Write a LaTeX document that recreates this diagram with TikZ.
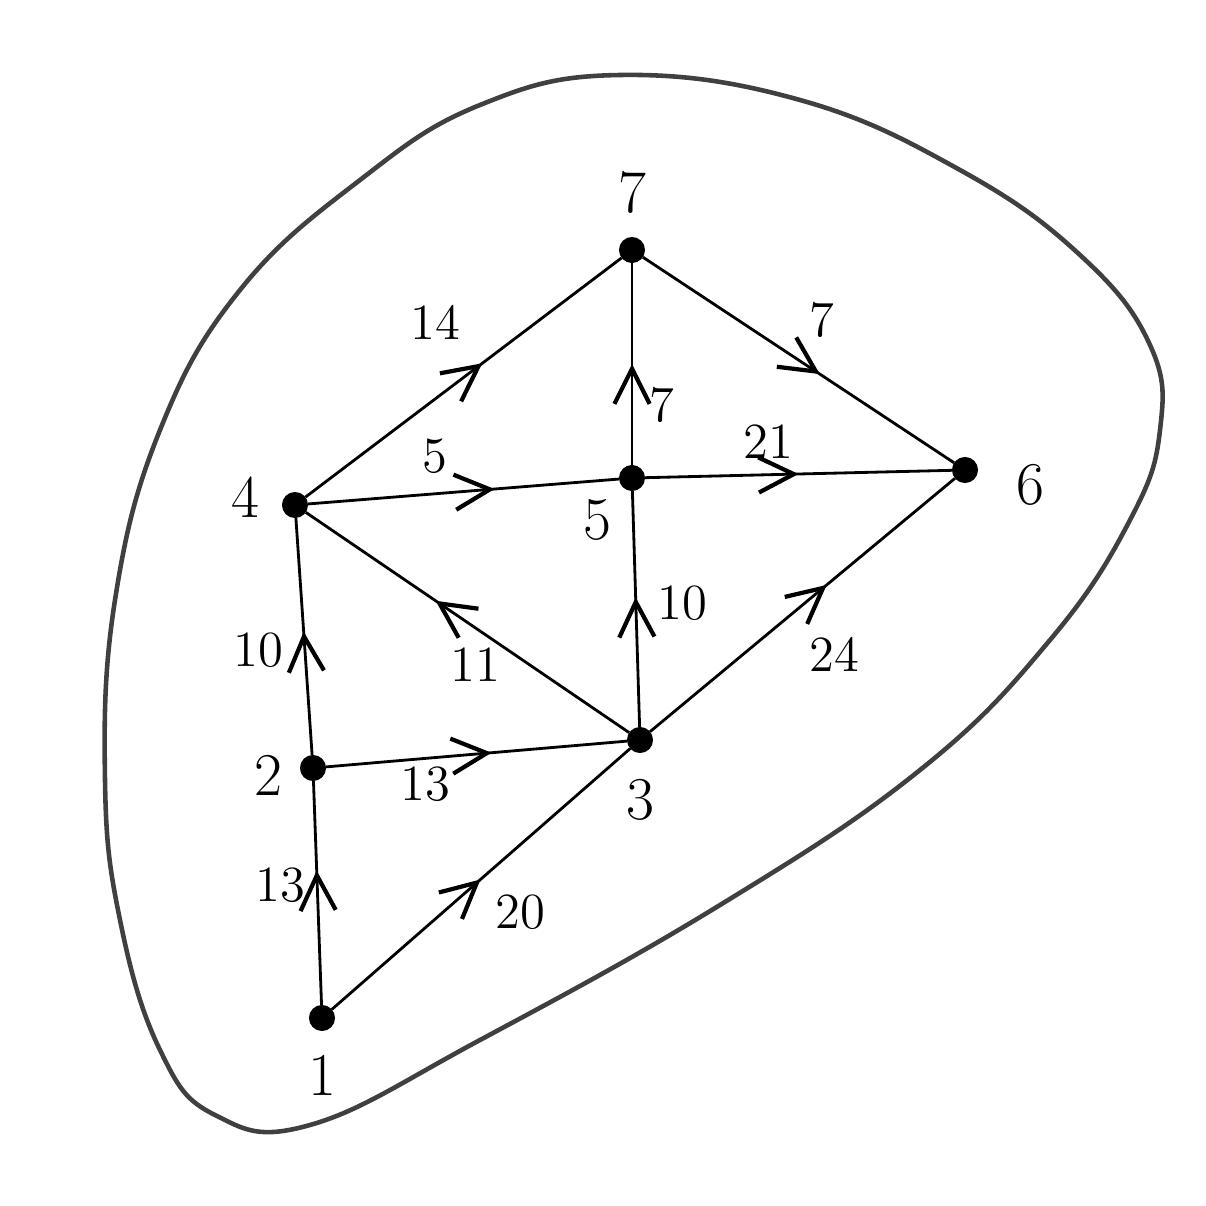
\documentclass[tikz,border=0pt]{standalone}
\usepackage{tikz}
\usetikzlibrary{arrows.meta,decorations.markings}

\begin{document}
\begin{tikzpicture}[x=0.01cm,y=-0.01cm,
  flow/.style={thick,postaction={decorate},
    decoration={markings,mark=at position #1 with {\arrow{Straight Barb[length=10pt,width=10pt,line width=1.2pt]}}}},
  flow/.default=0.5]
\tikzstyle{vertex}=[draw,circle,fill=black,inner sep=0pt,minimum size=7pt]
\tikzstyle{weight}=[font=\Large]
\tikzstyle{vname}=[font=\LARGE]
\useasboundingbox (0,0) rectangle (1205,1206);
% the region round the graph
\draw[line width=1.3pt,black!75] plot[smooth cycle,tension=0.7] coordinates
  {(620,75) (800,100) (960,170) (1080,255) (1150,345) (1160,430) (1130,520)
   (1050,640) (920,770) (720,905) (480,1040) (310,1125) (215,1115) (160,1050)
   (120,920) (105,780) (115,600) (160,430) (240,290) (360,180) (480,105)};
\node [vertex] (1) at (322,1018) {};
\node [vertex] (2) at (313,768) {};
\node [vertex] (3) at (640,740) {};
\node [vertex] (4) at (295,505) {};
\node [vertex] (5) at (632,478) {};
\node [vertex] (6) at (965,470) {};
\node [vertex] (7) at (632,250) {};
\node [vname] (n1) at (322,1075) {1};
\node [vname] (n2) at (268,775) {2};
\node [vname] (n3) at (640,800) {3};
\node [vname] (n4) at (245,497) {4};
\node [vname] (n5) at (597,520) {5};
\node [vname] (n6) at (1030,485) {6};
\node [vname] (n7) at (632,192) {7};
\path
    (1) edge [flow=0.6] (2)
    (1) edge [flow=0.5] (3)
    (2) edge [flow=0.52] (4)
    (2) edge [flow=0.55] (3)
    (3) edge [flow=0.6] (4)
    (3) edge [flow=0.55] (5)
    (3) edge [flow=0.58] (6)
    (4) edge [flow=0.6] (5)
    (4) edge [flow=0.56] (7)
    (5) edge [flow=0.5] (7)
    (5) edge [flow=0.5] (6)
    (7) edge [flow=0.57] (6);
\node [weight] (w12) at (280,885) {13};
\node [weight] (w13) at (520,912) {20};
\node [weight] (w24) at (258,650) {10};
\node [weight] (w23) at (425,784) {13};
\node [weight] (w34) at (475,665) {11};
\node [weight] (w35) at (682,603) {10};
\node [weight] (w36) at (834,654) {24};
\node [weight] (w45) at (435,456) {5};
\node [weight] (w47) at (435,322) {14};
\node [weight] (w57) at (662,405) {7};
\node [weight] (w56) at (768,442) {21};
\node [weight] (w76) at (822,320) {7};
\end{tikzpicture}
\end{document}
